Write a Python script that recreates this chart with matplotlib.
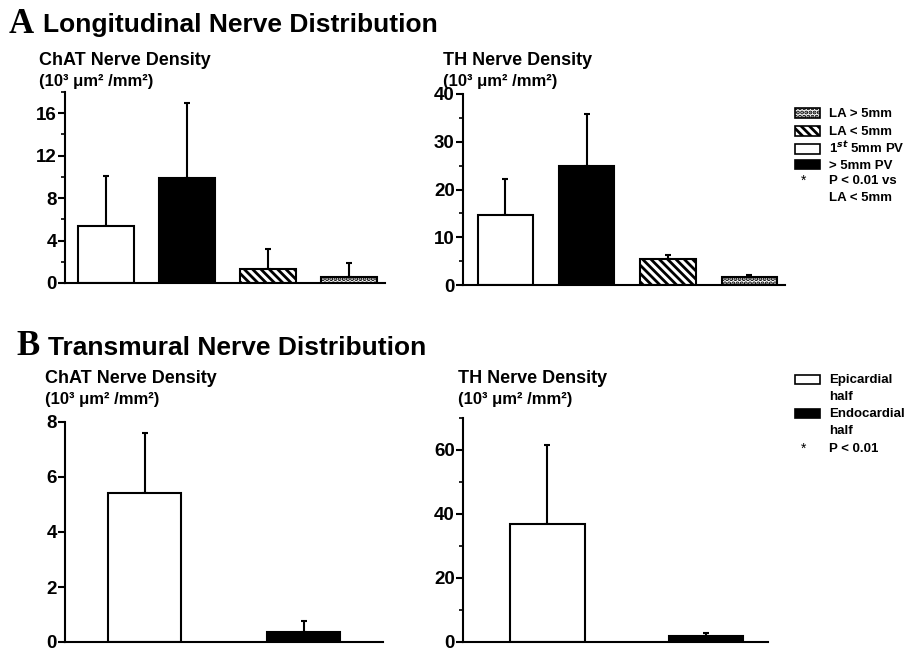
#!/usr/bin/env python3
"""
Nerve density bar charts: longitudinal (A) and transmural (B) distribution.
"""

import matplotlib.pyplot as plt
import numpy as np
from matplotlib.patches import Rectangle

# Panel A: longitudinal distribution (order as drawn left to right)
long_groups = ['1st 5mm PV', '> 5mm PV', 'LA < 5mm', 'LA > 5mm']
chat_long = [5.4, 9.85, 1.3, 0.6]
chat_long_err = [4.7, 7.1, 1.9, 1.25]
th_long = [14.7, 25.0, 5.4, 1.6]
th_long_err = [7.5, 10.9, 0.9, 0.5]

# Panel B: transmural distribution
trans_groups = ['Epicardial half', 'Endocardial half']
chat_trans = [5.42, 0.36]
chat_trans_err = [2.18, 0.40]
th_trans = [37.0, 1.8]
th_trans_err = [24.5, 0.9]

W, H = 905, 651

plt.rcParams['font.family'] = ['Liberation Sans', 'DejaVu Sans']
plt.rcParams['font.weight'] = 'bold'
plt.rcParams['mathtext.fontset'] = 'custom'
plt.rcParams['mathtext.rm'] = 'Liberation Sans:bold'
plt.rcParams['mathtext.bf'] = 'Liberation Sans:bold'
plt.rcParams['hatch.linewidth'] = 2.0

LONG_STYLE = [('white', ''), ('black', ''), ('white', '\\\\\\\\'), ('white', '....')]
TRANS_STYLE = [('white', ''), ('black', '')]


def px(x, y):
    return x / W, 1 - y / H


def add_axes(fig, x0, x1, y_top, y_bottom):
    l, b = px(x0, y_bottom)
    return fig.add_axes([l, b, (x1 - x0) / W, (y_bottom - y_top) / H])


def draw_bars(ax, vals, errs, styles, width, xlim, ytop, major, minor):
    x = np.arange(len(vals))
    bars = ax.bar(x, vals, width, color=[s[0] for s in styles], edgecolor='black',
                  linewidth=1.5, zorder=2)
    for b, (_, h) in zip(bars, styles):
        b.set_hatch(h)
    ax.errorbar(x, vals, yerr=[np.zeros(len(vals)), errs], fmt='none', ecolor='black',
                elinewidth=1.5, capsize=2, capthick=1.5, zorder=1)
    ax.set_xlim(*xlim)
    ax.set_ylim(0, ytop)
    ax.set_yticks(major)
    ax.set_yticks(minor, minor=True)
    ax.set_xticks([])
    for s in ['top', 'right']:
        ax.spines[s].set_visible(False)
    for s in ['left', 'bottom']:
        ax.spines[s].set_linewidth(1.5)
    ax.tick_params(axis='y', which='major', direction='out', length=5, width=1.5,
                   pad=1, labelsize=13.5)
    ax.tick_params(axis='y', which='minor', direction='out', length=3, width=1.2)
    for lab in ax.get_yticklabels():
        lab.set_fontweight('bold')


fig = plt.figure(figsize=(W / 100, H / 100), dpi=100)

# A: ChAT
ax = add_axes(fig, 65, 385, 92, 283)
draw_bars(ax, chat_long, chat_long_err, LONG_STYLE, 0.69, (-0.51, 3.44), 18,
          [0, 4, 8, 12, 16], [2, 6, 10, 14, 18])
# A: TH
ax = add_axes(fig, 463, 785, 94, 285)
draw_bars(ax, th_long, th_long_err, LONG_STYLE, 0.68, (-0.52, 3.44), 40,
          [0, 10, 20, 30, 40], [5, 15, 25, 35])
# B: ChAT
ax = add_axes(fig, 65, 383, 422, 642)
draw_bars(ax, chat_trans, chat_trans_err, TRANS_STYLE, 0.465, (-0.5, 1.5), 8,
          [0, 2, 4, 6, 8], [])
# B: TH
ax = add_axes(fig, 463, 768, 418, 642)
draw_bars(ax, th_trans, th_trans_err, TRANS_STYLE, 0.47, (-0.53, 1.39), 70,
          [0, 20, 40, 60], [10, 30, 50, 70])


def ftext(x, y, s, **kw):
    fig.text(*px(x, y), s, va='baseline', ha='left', **kw)


# Headings
ftext(9, 33, 'A', fontsize=25, family='Liberation Serif', fontweight='bold')
ftext(43, 32, 'Longitudinal Nerve Distribution', fontsize=19)
ftext(16, 355, 'B', fontsize=25, family='Liberation Serif', fontweight='bold')
ftext(48, 355, 'Transmural Nerve Distribution', fontsize=19)

unit = '(10³ μm² /mm²)'
ftext(39, 65, 'ChAT Nerve Density', fontsize=13)
ftext(39, 86, unit, fontsize=12)
ftext(443, 65, 'TH Nerve Density', fontsize=13)
ftext(443, 86, unit, fontsize=12)
ftext(45, 383, 'ChAT Nerve Density', fontsize=13)
ftext(45, 404, unit, fontsize=12)
ftext(458, 383, 'TH Nerve Density', fontsize=13)
ftext(458, 404, unit, fontsize=12)


def legend_box(y, face, hatch=''):
    l, b = px(795, y + 4.5)
    fig.add_artist(Rectangle((l, b), 25 / W, 9 / H, transform=fig.transFigure,
                             facecolor=face, edgecolor='black', linewidth=1.2,
                             hatch=hatch))


# Legend A
legA = [
    (113, 'LA > 5mm', 'white', '....'),
    (131, 'LA < 5mm', 'white', '\\\\\\\\'),
    (149, '1$^{st}$ 5mm PV', 'white', ''),
    (165, '> 5mm PV', 'black', ''),
]
for y, lab, face, hatch in legA:
    legend_box(y, face, hatch)
    ftext(829, y + 4, lab, fontsize=9.5)
ftext(801, 185, '*', fontsize=10, fontweight='normal')
ftext(829, 184, 'P < 0.01 vs', fontsize=9.5)
ftext(829, 201, 'LA < 5mm', fontsize=9.5)

# Legend B
legend_box(379, 'white')
ftext(829, 383, 'Epicardial', fontsize=9.5)
ftext(829, 400, 'half', fontsize=9.5)
legend_box(413, 'black')
ftext(829, 417, 'Endocardial', fontsize=9.5)
ftext(829, 434, 'half', fontsize=9.5)
ftext(801, 453, '*', fontsize=10, fontweight='normal')
ftext(829, 452, 'P < 0.01', fontsize=9.5)

fig.savefig('out.png', dpi=100)
